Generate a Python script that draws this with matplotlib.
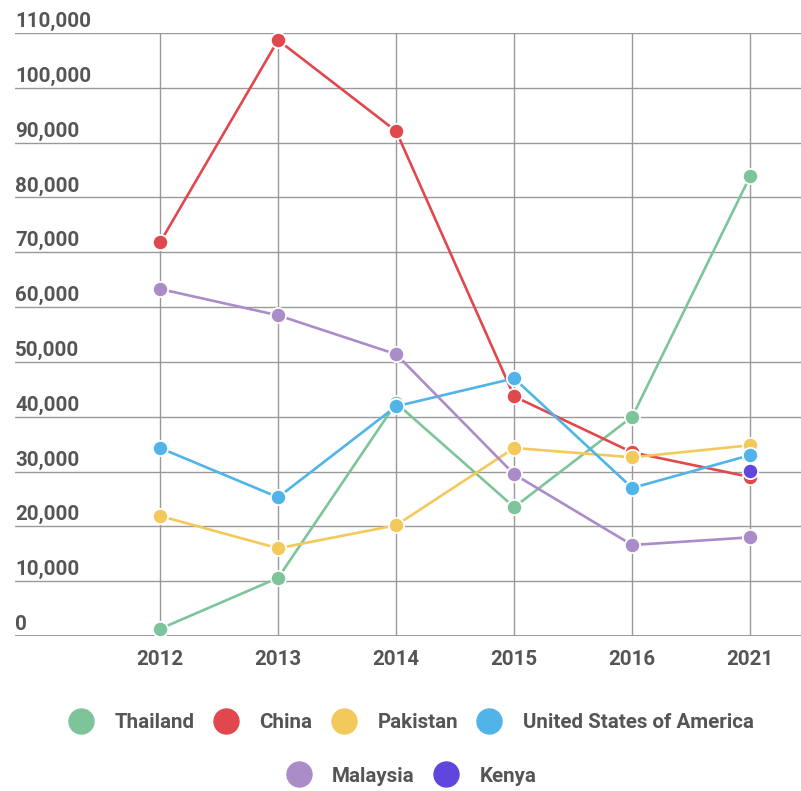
import numpy as np
import matplotlib
matplotlib.use("Agg")
import matplotlib.pyplot as plt
from matplotlib.lines import Line2D

plt.rcParams['font.family'] = ['Roboto', 'DejaVu Sans']

# data
years = ["2012", "2013", "2014", "2015", "2016", "2021"]
thailand = [1300, 10600, 42500, 23500, 40000, 83900]
china = [71800, 108700, 92100, 43700, 33500, 29000]
pakistan = [21900, 16000, 20200, 34300, 32600, 34800]
usa = [34300, 25300, 41900, 47000, 27000, 33000]
malaysia = [63300, 58500, 51400, 29500, 16600, 18000]
kenya = [None, None, None, None, None, 30100]

names = ["Thailand", "China", "Pakistan", "United States of America", "Malaysia", "Kenya"]
series = [thailand, china, pakistan, usa, malaysia, kenya]
colors = ["#7dc49b", "#e0484e", "#f2c95a", "#50b4e8", "#aa8cc8", "#6046dc"]
yticks = np.arange(0, 110001, 10000)

txt_color = "#555555"
fs = 14.8
fw = "semibold"

fig = plt.figure(figsize=(8.01, 7.91), dpi=100)
ax = fig.add_axes([15/801, 1 - 636/791, 786/801, 603/791])

x = np.arange(len(years))
for name, vals, c in zip(names, series, colors):
    v = np.array([np.nan if a is None else a for a in vals], dtype=float)
    ax.plot(x, v, color=c, lw=1.9, marker="o", ms=11, mfc=c, mec="white",
            mew=1.3, clip_on=False, zorder=3, label=name)

ax.set_xlim(-1.229, 5.43)
ax.set_ylim(0, 110000)
ax.set_xticks(x)
ax.set_xticklabels(years, fontsize=fs, fontweight=fw, color=txt_color)
ax.set_yticks(yticks)
ax.set_yticklabels([])
ax.tick_params(length=0, pad=10)
ax.grid(True, color="#999999", lw=1)
for s in ax.spines.values():
    s.set_visible(False)
ax.axhline(0, color="#888888", lw=1.2, zorder=1)

for v in yticks:
    ax.annotate(f"{v:,}", xy=(0, v), xycoords=ax.get_yaxis_transform(),
                xytext=(0, 6), textcoords="offset pixels", va="baseline", ha="left",
                fontsize=fs, fontweight=fw, color=txt_color)

def handles(idx):
    return [Line2D([], [], ls="none", marker="o", ms=18, color=colors[i],
                   mec=colors[i]) for i in idx]

kw = dict(loc="center", frameon=False, handlelength=1.25, handletextpad=1.0,
          columnspacing=0.9, prop={"size": fs, "weight": fw}, labelcolor=txt_color)
leg1 = fig.legend(handles([0, 1, 2, 3]), names[:4], ncol=4,
                  bbox_to_anchor=(411/801, 1 - 723/791), **kw)
leg2 = fig.legend(handles([4, 5]), names[4:], ncol=2,
                  bbox_to_anchor=(411/801, 1 - 776/791), **kw)

fig.savefig("out.png", dpi=100)
